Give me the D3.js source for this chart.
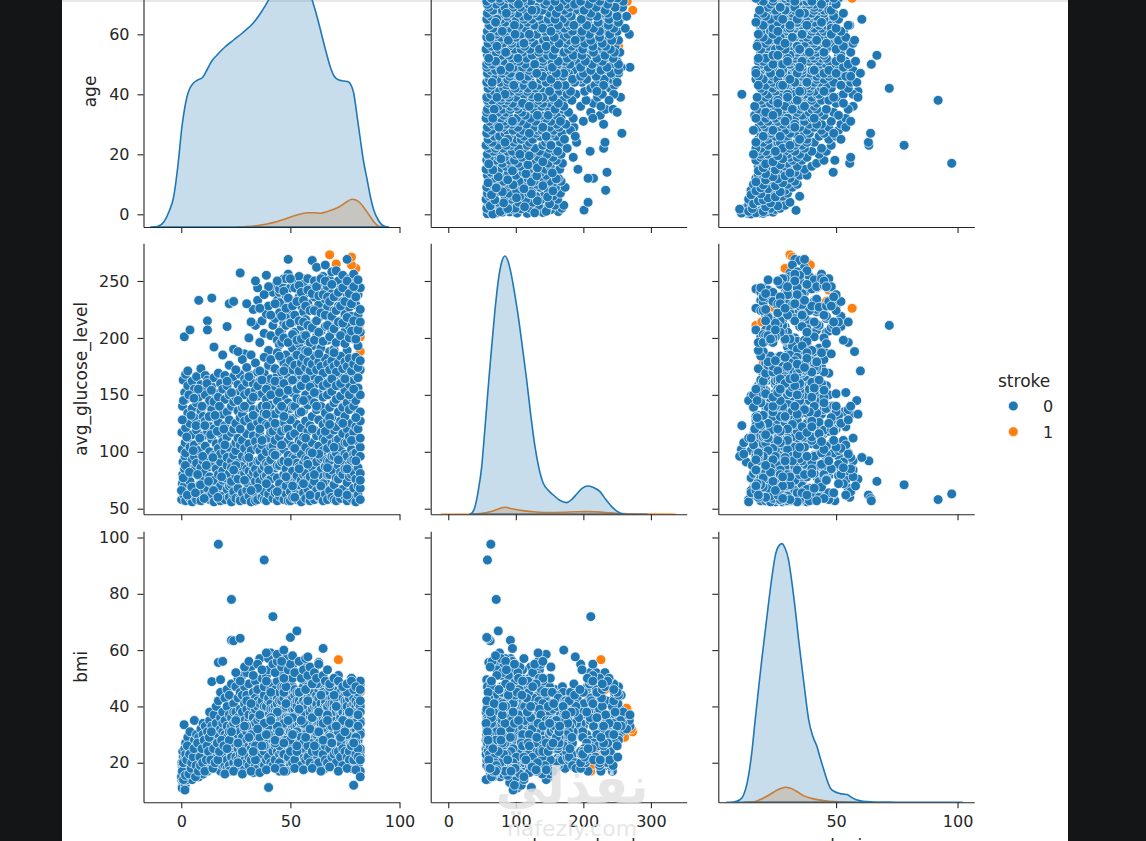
<!DOCTYPE html>
<html>
<head>
<meta charset="utf-8">
<title>Stroke pairplot</title>
<script src="https://d3js.org/d3.v7.min.js"></script>
<style>
  body { margin: 0; background: #131517; }
  svg { display: block; }
  .tick text { font-family: "DejaVu Sans", sans-serif; font-size: 16px; fill: #262626; }
  .tick line, .domain { stroke: #262626; stroke-width: 1.1px; }
  .lbl { font-family: "DejaVu Sans", sans-serif; font-size: 17px; fill: #262626; }
</style>
</head>
<body>
<svg id="chart"></svg>
<script>
// columns of the grid, in order
const variables = ["age", "avg_glucose_level", "bmi"];
const hueTitle = "stroke";
const hueLevels = ["0", "1"];

// tick values per column (x) and per row (y)
const xTickSets = [[0, 50, 100], [0, 100, 200, 300], [0, 50, 100]];
const yTickSets = [[0, 20, 40, 60, 80], [50, 100, 150, 200, 250], [20, 40, 60, 80, 100]];

// axis limits (x limits include the kde support, y limits are the scatter limits)
const xLims = [[-17.3, 100], [-26, 353], [1.5, 106.9]];
const yLims = [[-4.23, 86.1], [45.1, 283.1], [5.95, 102.2]];

// records [age, avg_glucose_level, bmi], stroke = 1 (drawn first)
const strokeYes = [
  [68,273,31],[71,265,38.7],[80,261,29],[82,201,45],[82,188,38],[69,184,35],[74.5,141,30],[75,165,28],
  [79,232,46],[66,242,47],[81.5,211,17],[56,252,41],[45,227,24],[68.7,178,20],[78,264,39.4],[78,271,32],
  [61,235,49],[72,226,56.6],[57,214,19.4],[58,87,30],[63,95,27],[70,110,33],[77,76,29],[80,102,25],
  [67,64,36],[54,120,31],[74,89,24],[59,71,35],[81,130,27],[76,144,32],[49,100,29],[64,81,33],[72,67,28],[78,118,31]
];

// records [age, avg_glucose_level, bmi], stroke = 0
const strokeNo = [
  [0.2,58,14],[0.5,72,18.5],[0.8,91,13],[0.3,117,20],[0.6,140,16],[0.9,163,22],[0.4,102,11],[0.7,80,24],
  [1.2,62,16],[1.5,85,21],[1.8,108,12],[1.1,128,18],[1.6,152,25],[1.3,70,33.5],[1.7,96,10.3],[1.4,201,19],
  [2,57,19],[2,77,15],[2,99,23],[2,121,17],[2,146,27],[2,168,20],
  [3,64,17],[3,88,20.5],[3,112,14],[3,134,29],[3,158,18],[3,171,21],
  [4,59,22],[4,81,16],[4,104,19],[4,125,24],[4,149,15],[4,74,31],[4,207,17],
  [5,67,18],[5,93,26],[5,115,16],[5,138,21],[5,162,19],[5,56,14],
  [6,61,20],[6,84,17],[6,106,35],[6,130,23],[6,155,18],[6,96,28],
  [7,69,16],[7,90,22],[7,119,19],[7,143,26],[7,166,21],[7,58,30],
  [8,63,18],[8,79,24],[8,101,15],[8,124,20],[8,148,29],[8,233,19],
  [9,57,21],[9,86,17],[9,110,27],[9,136,23],[9,159,32],[9,173,18],
  [10,65,19],[10,92,25],[10,114,16],[10,131,30],[10,154,21],[10,76,34],
  [11,60,23],[11,82,18],[11,105,28],[11,127,20],[11,150,33],[11,167,24],
  [12,68,17],[12,95,22],[12,118,31],[12,141,26],[12,163,19],[12,215,25],[12,207,21],
  [13,58,27],[13,78,20],[13,100,35],[13,122,24],[13,145,18],[13,87,38],
  [14,63,22],[14,89,29],[14,111,19],[14,137,48.8],[14,157,26],[14,235,23],[14,72,33],
  [15,56,25],[15,75,20],[15,97,31],[15,120,37],[15,144,23],[15,165,28],[15,192,30],
  [16,66,18],[16,85,26],[16,107,40],[16,129,22],[16,151,34],[16,94,29],
  [17,63,97.6],[17,59,24],[17,80,55.6],[17,103,19],[17,126,30],[17,148,42],[17,169,27],
  [18,70,32],[18,91,21],[18,116,45],[18,139,26],[18,160,36],[18,57,49.5],[18,98,17],
  [19,61,28],[19,83,38],[19,109,23],[19,133,56],[19,155,31],[19,185,34],[19,75,19],
  [20,58,22],[20,77,35],[20,100,27],[20,123,43],[20,146,19],[20,167,30],
  [21,67,40],[21,88,24],[21,113,33],[21,135,21],[21,158,46],[21,210,29],[21,95,18],
  [22,60,31],[22,81,19],[22,104,44],[22,128,26],[22,150,37],[22,230,25],[22,70,17],
  [23,71,78],[23,92,63.5],[23,56,23],[23,74,36],[23,117,29],[23,140,48],[23,163,22],[23,86,33],
  [24,62,63.3],[24,65,27],[24,97,41],[24,120,20],[24,144,34],[24,166,26],[24,190,38],[24,232,27],
  [25,59,30],[25,79,47],[25,101,22],[25,125,38],[25,148,18],[25,108,35],
  [26,68,21],[26,90,36],[26,112,30],[26,136,50],[26,159,25],[26,76,43],
  [27,59,64.2],[27,57,33],[27,84,26],[27,106,45],[27,130,19],[27,153,39],[27,257,31],[27,168,23],
  [28,64,38],[28,87,29],[28,110,23],[28,133,44],[28,156,20],[28,96,51],
  [29,58,26],[29,81,41],[29,103,35],[29,127,18],[29,150,47],[29,186,32],[29,164,21],
  [30,66,44],[30,94,24],[30,116,39],[30,139,31],[30,161,20],[30,73,52],[30,85,28],
  [31,61,35],[31,83,19],[31,107,48],[31,129,22],[31,152,37],[31,200,33],[31,98,26],
  [32,56,28],[32,78,42],[32,101,21],[32,122,54],[32,145,25],[32,167,40],[32,90,33],
  [33,69,16.5],[33,89,37],[33,114,27],[33,137,45],[33,160,30],[33,225,36],[33,82,23],
  [34,63,49],[34,85,30],[34,109,24],[34,131,39],[34,154,19],[34,211,28],[34,57,34],[34,74,43],
  [35,58,40],[35,80,22],[35,103,46],[35,126,29],[35,149,35],[35,233,31],[35,244,42],[35,170,26],[35,92,18],
  [36,67,31],[36,92,57],[36,115,21],[36,138,25],[36,162,41],[36,196,30],[36,74,27],[36,101,36],
  [37,60,38],[37,84,28],[37,106,42],[37,128,20],[37,151,50],[37,215,37],[37,95,23],[37,140,32],
  [38,58,92],[38,65,24],[38,87,44],[38,111,26],[38,134,38],[38,157,19],[38,204,40],[38,169,47],[38,78,33],
  [39,57,29],[39,79,51],[39,100,21],[39,124,40],[39,146,27],[39,255,36],[39,221,33],[39,90,35],
  [40,123,11.2],[40,63,42],[40,89,22],[40,112,37],[40,135,53],[40,159,28],[40,189,35],[40,228,43],[40,75,31],
  [41,68,36],[41,93,46],[41,117,20],[41,141,41],[41,164,25],[41,202,39],[41,76,59],[41,104,30],
  [42,211,71.9],[42,59,24],[42,82,39],[42,105,28],[42,129,48],[42,152,19],[42,240,32],[42,174,44],[42,118,34],
  [43,64,45],[43,86,21],[43,110,40],[43,133,35],[43,156,26],[43,217,46],[43,246,38],[43,97,30],
  [44,57,38],[44,77,27],[44,99,49],[44,122,18],[44,144,43],[44,167,31],[44,198,29],[44,233,41],[44,88,24],
  [45,61,23],[45,88,42],[45,113,36],[45,137,55],[45,160,29],[45,240,37],[45,222,45],[45,194,33],[45,72,19],[45,243,17],
  [46,66,40],[46,91,26],[46,118,47],[46,140,21],[46,163,39],[46,207,42],[46,248,30],[46,181,36],[46,104,33],
  [47,58,47],[47,80,20],[47,102,30],[47,126,43],[47,149,25],[47,229,28],[47,213,50],[47,252,39],[47,92,36],
  [48,63,28],[48,85,52],[48,108,22],[48,131,33],[48,155,45],[48,185,40],[48,237,34],[48,70,36],[48,120,19],
  [49,57,36],[49,76,24],[49,97,42],[49,120,50],[49,143,32],[49,166,21],[49,269,33],[49,256,44],[49,220,27],[49,110,29],
  [50,57,64.5],[50,65,44],[50,90,27],[50,114,35],[50,138,46],[50,162,20],[50,200,31],[50,244,48],[50,226,36],[50,80,31],[50,225,19],
  [51,60,33],[51,83,47],[51,105,23],[51,129,31],[51,152,54],[51,191,43],[51,250,35],[51,214,39],[51,95,18],[51,140,28],
  [52,68,39],[52,94,25],[52,116,44],[52,140,36],[52,164,28],[52,232,41],[52,205,46],[52,183,33],[52,74,20],
  [53,74,66.8],[53,58,42],[53,79,22],[53,101,51],[53,124,33],[53,147,40],[53,243,29],[53,219,37],[53,170,45],[53,90,30],
  [54,62,30],[54,87,45],[54,110,19],[54,134,42],[54,157,34],[54,195,38],[54,236,24],[54,254,31],[54,71,27],
  [55,56,38],[55,75,33],[55,98,46],[55,121,21],[55,145,39],[55,167,32],[55,210,52],[55,228,35],[55,188,41],[55,108,26],
  [56,64,47],[56,90,24],[56,113,40],[56,136,31],[56,160,43],[56,247,38],[56,202,22],[56,223,42],[56,80,35],
  [57,59,35],[57,81,41],[57,104,20],[57,127,49],[57,150,37],[57,186,45],[57,239,33],[57,216,28],[57,94,27],
  [58,67,43],[58,93,32],[58,118,23],[58,141,29],[58,163,42],[58,252,40],[58,197,34],[58,230,47],[58,76,19],
  [59,57,31],[59,78,45],[59,100,36],[59,123,21],[59,146,33],[59,208,38],[59,243,30],[59,180,43],[59,88,26],
  [60,63,40],[60,86,29],[60,108,50],[60,131,24],[60,155,39],[60,268,35],[60,225,42],[60,193,32],[60,71,20],
  [61,58,36],[61,74,22],[61,96,32],[61,119,45],[61,143,30],[61,166,37],[61,250,40],[61,213,27],[61,236,29],
  [62,66,33],[62,91,40],[62,114,19],[62,137,28],[62,160,44],[62,262,37],[62,201,41],[62,185,30],[62,102,25],
  [63,60,55.6],[63,61,39],[63,82,24],[63,105,46],[63,128,34],[63,151,21],[63,229,36],[63,246,43],[63,218,32],
  [64,69,44],[64,94,35],[64,117,22],[64,140,41],[64,164,33],[64,206,47],[64,240,34],[64,191,38],[64,84,27],
  [65,95,60.6],[65,57,30],[65,78,38],[65,101,20],[65,124,32],[65,148,45],[65,254,39],[65,222,31],[65,180,36],[65,112,26],
  [66,63,41],[66,87,33],[66,110,23],[66,134,38],[66,157,27],[66,264,32],[66,234,42],[66,210,35],[66,74,18],
  [67,58,35],[67,80,45],[67,103,24],[67,127,40],[67,150,30],[67,169,21],[67,198,37],[67,245,29],[67,227,40],[67,92,32],
  [68,66,37],[68,92,22],[68,115,43],[68,139,34],[68,162,26],[68,217,33],[68,251,41],[68,188,45],[68,80,30],
  [69,60,43],[69,84,34],[69,107,20],[69,130,29],[69,153,41],[69,239,36],[69,205,30],[69,258,34],[69,96,25],
  [70,71,31],[70,96,41],[70,119,23],[70,143,45],[70,166,32],[70,224,39],[70,190,34],[70,247,31],[70,58,27],
  [71,57,39],[71,77,19],[71,99,44],[71,122,36],[71,146,26],[71,211,43],[71,236,35],[71,259,38],[71,110,30],
  [72,64,34],[72,88,46],[72,111,21],[72,135,39],[72,158,28],[72,183,29],[72,228,40],[72,250,33],[72,76,25],
  [73,59,45],[73,82,24],[73,104,37],[73,127,18],[73,149,32],[73,169,36],[73,215,33],[73,243,40],[73,95,29],
  [74,67,38],[74,92,29],[74,116,43],[74,139,22],[74,161,40],[74,197,38],[74,232,30],[74,255,35],[74,80,20],
  [75,61,30],[75,85,40],[75,108,21],[75,131,27],[75,154,45],[75,221,36],[75,245,42],[75,206,28],[75,98,34],
  [76,57,42],[76,73,23],[76,96,38],[76,120,30],[76,143,19],[76,166,34],[76,269,37],[76,238,31],[76,189,40],[76,108,27],
  [77,64,36],[77,89,44],[77,113,20],[77,137,37],[77,159,26],[77,227,43],[77,252,29],[77,210,36],[77,78,31],
  [78,59,29],[78,80,37],[78,102,45],[78,125,22],[78,148,40],[78,180,35],[78,240,30],[78,219,46],[78,92,18],
  [79,98,12],[79,68,41],[79,93,24],[79,117,38],[79,140,28],[79,163,43],[79,233,37],[79,256,33],[79,199,31],[79,82,21],
  [80,56,34],[80,76,46],[80,99,20],[80,122,40],[80,145,35],[80,168,29],[80,212,42],[80,247,38],[80,229,32],[80,110,26],
  [81,62,38],[81,86,23],[81,109,44],[81,133,34],[81,156,41],[81,193,36],[81,238,30],[81,220,45],[81,120,19],[81,70,28],
  [82,58,31],[82,81,40],[82,104,35],[82,127,48],[82,150,30],[82,205,38],[82,244,34],[82,172,42],[82,96,17],[82,135,24],[82,68,22],
  // children, extra
  [0.1,66,15],[0.5,128,17],[0.9,77,20],[1,145,14],[1.9,88,15.5],[2.5,113,21],[2.8,62,26],[3.5,150,16],[3.8,82,23],
  [4.5,132,18],[4.8,69,20],[5.5,101,22],[5.8,147,25],[6.5,64,15],[6.8,123,19],[7.5,80,27],[7.8,155,17],[8.5,112,22],
  [8.8,71,19],[9.5,140,25],[9.8,96,20],[10.5,59,28],[10.8,123,17],[11.5,88,21],[11.8,160,26],[12.5,74,24],[12.8,131,29],
  [13.5,115,21],[13.8,154,31],[14.5,95,18],[14.8,66,25],[15.5,132,20],[16.5,118,27],[16.8,60,21],[17.5,140,24],
  [18.5,78,28],[19.5,120,26],
  // glucose 165-190
  [22,176,28],[25,172,35],[28,181,24],[30,174,42],[32,185,30],[34,178,21],[36,171,37],[38,183,26],[40,176,33],
  [41,181,45],[43,173,29],[44,187,38],[46,170,24],[47,178,34],[48,174,41],[50,180,27],[51,172,36],[52,176,22],
  [53,185,31],[54,171,39],[55,178,25],[56,183,34],[57,174,30],[58,179,42],[59,171,27],[60,177,36],[61,184,23],
  [62,172,31],[63,179,38],[64,175,28],[65,169,34],[66,182,26],[67,177,37],[68,172,29],[69,180,33],[70,175,24],
  [71,170,40],[72,178,31],[73,184,27],[74,173,35],[75,179,22],[76,175,30],[77,182,38],[78,171,26],[79,177,34],
  [80,183,29],[81,174,37],[82,180,25],[26,188,20],[45,184,19],[57,189,18],[63,186,48],[70,187,44],
  // glucose 190-260, older
  [45,205,26],[45,231,20],[46,219,52],[46,196,18],[47,241,23],[47,200,45],[48,226,17],[48,211,28],[48,252,47],
  [49,235,22],[49,196,55],[50,213,24],[50,252,28],[51,228,50],[51,203,20],[52,244,21],[52,220,30],[53,198,24],
  [53,232,52],[54,215,27],[54,246,45],[55,199,29],[55,240,19],[56,233,27],[56,214,55],[57,202,21],[57,228,46],
  [58,211,26],[58,242,22],[59,224,50],[59,196,20],[60,239,24],[60,209,48],[61,224,19],[61,198,53],[62,215,24],
  [62,245,48],[63,205,27],[63,237,20],[64,222,26],[64,252,44],[65,197,23],[65,238,50],[66,220,21],[66,250,26],
  [67,211,49],[67,236,20],[68,201,25],[68,232,47],[69,219,22],[69,247,27],[70,208,23],[70,236,49],[71,196,24],
  [71,224,20],[72,214,51],[72,240,24],[73,202,22],[73,228,48],[74,213,25],[74,244,19],[75,232,24],[75,195,46],
  [76,218,22],[76,250,45],[77,200,24],[77,239,21],[78,230,26],[78,206,50],[79,215,21],[79,245,46],[80,199,23],
  [80,236,27],[81,207,25],[81,251,22],[82,225,21],[82,214,49],[44,250,33],[43,230,27],[41,220,36],[40,245,30],
  [38,238,34],[36,226,29],[34,250,26],[32,214,41],[30,230,33],
  // high bmi
  [25,88,52],[27,120,49],[29,75,54],[31,95,56],[33,132,51],[35,68,55],[37,110,53],[39,140,49],[40,84,57],[42,99,55],
  [43,125,52],[44,65,56],[46,106,54],[47,138,50],[48,78,57],[49,91,53],[50,128,55],[51,70,58],[52,103,52],[54,85,56],
  [55,135,50],[56,72,53],[57,112,57],[58,89,51],[59,62,54],[60,120,48],[61,80,52],[62,140,50],[63,98,55],[65,72,51],
  [66,118,49],[67,86,53],[68,130,48],[70,104,50],[72,64,49],[74,125,47],[76,85,48],[78,110,49],[80,92,47],[82,75,46],
  [44,145,58.5],[39,133,59],[47,171,60],[58,188,57.6],[46,140,56],
  // low bmi
  [20,106,16],[24,84,17],[28,139,16],[32,66,17],[36,120,16.5],[39,72,17.5],[43,97,18],[47,131,17],[52,60,18],
  [56,145,17.5],[60,99,18],[64,70,17],[68,124,18.5],[72,93,17],[76,62,18],[80,130,17.5],[82,112,15],
  // glucose 140-168
  [21,162,25],[23,152,31],[26,145,27],[29,140,33],[31,166,29],[33,148,24],[35,158,32],[37,163,26],[39,155,30],
  [41,150,35],[43,162,28],[45,152,31],[47,160,27],[49,154,35],[51,163,30],[53,155,26],[55,158,35],[57,164,29],
  [59,157,32],[61,152,26],[63,163,31],[65,158,28],[67,160,35],[69,164,27],[71,158,33],[73,160,29],[75,164,31],
  [77,150,34],[79,155,27],[81,165,33]
];

// kde curves on the diagonal: [value, relative density]
const ageKde0 = [[-14,0],[-11,0.5],[-8,5],[-5.5,16],[-3.5,30],[-1.5,62],[0.3,100],[1.5,118],[2.6,130],[4,139],[5.6,144],
  [7.5,147],[9.5,149],[12,158],[14,166],[16.4,172],[20,180],[24,187],[28,194],[33,204],[37,216],[40,227],[43,242],
  [47,260],[50,268],[53,265],[56,252],[58.5,238],[60,227],[62,212],[63.8,197],[66,178],[68.3,160],[70,151],[72.2,147],
  [74.5,146],[76.7,145],[78,141],[79,134],[80.5,112],[82.1,87],[83.5,66],[85.2,47],[86.7,30],[88.2,17],[90,8],[92.8,1],[95,0]];
const ageKde1 = [[26,0],[30,0.5],[35,1.5],[39.3,3],[44,5.5],[48.5,8.7],[53,12],[57.7,14.3],[61,14.2],[63.8,13.7],[67,15.5],
  [69.9,17.7],[73,21],[76,25.5],[78.3,27.7],[80,27],[82.1,23.7],[84.5,17],[86.7,10],[88.5,4.5],[90.5,0.7],[92,0]];
const glucoseKde0 = [[32,0],[36,2],[39.6,7.7],[44,22],[49.5,47.7],[53,75],[56.9,107.7],[60.5,138],[64.3,167.7],[69,203],
  [74.1,234],[79,252],[84,258.3],[89,252],[93.9,237.7],[99,218],[103.7,197.7],[110,166],[116.1,134.3],[122,100],[128.4,67.7],
  [134,47],[140.7,31],[148,24],[155.6,19.3],[165,14],[175.4,11.7],[183,15],[190.2,20.3],[198,26],[207.4,28.3],[216,26.5],
  [224.7,22.7],[233,15],[242,7.7],[250,3],[259.3,0.3],[270,0],[294,0]];
const glucoseKde1 = [[-10,0],[20,0],[40,0.5],[55,1.5],[65,3],[75,5.5],[84,7],[95,5.5],[110,3.7],[130,2.3],[150,1.8],
  [170,2],[190,2.5],[205,2.7],[220,2.4],[240,1.5],[260,0.7],[290,0.2],[336,0]];
const bmiKde0 = [[5,0],[6.3,0],[9,1],[11.2,4.3],[12.6,12],[13.9,26],[15.3,50],[16.7,82.7],[18,112],[19.4,142.7],[20.8,171],
  [22.2,199.3],[23.5,224],[24.9,246],[26.3,256],[27.7,258.7],[29,254],[30.4,242.7],[31.8,220],[33.2,192.7],[34.5,164],
  [35.9,136],[37.3,108],[38.7,82.7],[40.4,66],[42.1,56],[43.5,44],[44.9,32.7],[46.3,22],[47.6,14.3],[49.5,10.5],[51.8,8.7],
  [53.2,8.2],[54.5,7.7],[56.3,5],[58,2.7],[60,1.5],[62.8,0.7],[66,0.3],[75,0.1],[102,0]];
const bmiKde1 = [[12,0],[16.7,0.7],[19,3],[21.5,6],[23.5,9],[25.6,12],[27.5,14],[29.1,15],[31,14.2],[32.5,12.7],[34.5,9.8],
  [36.6,6.7],[39,4.5],[42.1,2.7],[45.5,1.5],[49,0.7],[53,0.2],[58,0]];
const kdes = [[ageKde0, ageKde1], [glucoseKde0, glucoseKde1], [bmiKde0, bmiKde1]];

const colors = ["#1f77b4", "#ff7f0e"];

// layout
const W = 1146, H = 841;
const colX = [143.5, 430.7, 718.3], colW = 256;
const rowY = [-44, 243.3, 531.3], rowH = 271;
const yLabelX = [96, 86.5, 86.5];
const dotR = 4.9;

const svg = d3.select("#chart").attr("width", W).attr("height", H);
svg.append("rect").attr("width", W).attr("height", H).attr("fill", "#131517");
svg.append("rect").attr("x", 62).attr("width", 1006).attr("height", H).attr("fill", "#ffffff");
svg.append("rect").attr("x", 62).attr("width", 1006).attr("height", 2).attr("fill", "#e8e8e8");

const xScales = xLims.map((d, j) => d3.scaleLinear().domain(d).range([colX[j], colX[j] + colW]));
const yScales = yLims.map((d, i) => d3.scaleLinear().domain(d).range([rowY[i] + rowH, rowY[i]]));
const fmt = d3.format("d");

for (let i = 0; i < 3; i++) {
  for (let j = 0; j < 3; j++) {
    const x = xScales[j], y = yScales[i];
    const id = "clip" + i + j;
    svg.append("clipPath").attr("id", id).append("rect")
      .attr("x", colX[j]).attr("y", rowY[i]).attr("width", colW).attr("height", rowH);
    const g = svg.append("g").attr("clip-path", "url(#" + id + ")");

    if (i === j) {
      // density for each stroke level, level 1 underneath
      const ky = d3.scaleLinear().domain([0, rowH]).range([rowY[i] + rowH, rowY[i]]);
      const area = d3.area().x(d => x(d[0])).y0(ky(0)).y1(d => ky(d[1])).curve(d3.curveMonotoneX);
      [1, 0].forEach(h => {
        g.append("path").datum(kdes[i][h])
          .attr("d", d => area(d) + "Z")
          .attr("fill", colors[h]).attr("fill-opacity", 0.25)
          .attr("stroke", colors[h]).attr("stroke-width", 1.6)
          .attr("stroke-linejoin", "round");
      });
    } else {
      [[strokeYes, 1], [strokeNo, 0]].forEach(([recs, h]) => {
        g.selectAll(null).data(recs).enter().append("circle")
          .attr("cx", d => x(d[j])).attr("cy", d => y(d[i]))
          .attr("r", dotR)
          .attr("fill", colors[h])
          .attr("stroke", "#ffffff").attr("stroke-width", 0.7);
      });
    }

    const yt = yTickSets[i].filter(v => v >= yLims[i][0] && v <= yLims[i][1]);
    svg.append("g").attr("transform", "translate(" + colX[j] + ",0)")
      .call(d3.axisLeft(y).tickValues(yt).tickSize(6).tickPadding(8).tickSizeOuter(0)
        .tickFormat(j === 0 ? fmt : () => ""));
    const xt = xTickSets[j].filter(v => v >= xLims[j][0] && v <= xLims[j][1]);
    svg.append("g").attr("transform", "translate(0," + (rowY[i] + rowH) + ")")
      .call(d3.axisBottom(x).tickValues(xt).tickSize(6).tickPadding(7).tickSizeOuter(0)
        .tickFormat(i === 2 ? fmt : () => ""));
  }
}

// axis labels
variables.forEach((v, k) => {
  svg.append("text").attr("class", "lbl")
    .attr("transform", "translate(" + yLabelX[k] + "," + (rowY[k] + rowH / 2) + ") rotate(-90)")
    .attr("text-anchor", "middle").text(v);
  svg.append("text").attr("class", "lbl")
    .attr("x", colX[k] + colW / 2).attr("y", 852)
    .attr("text-anchor", "middle").text(v);
});

// legend
const leg = svg.append("g");
leg.append("text").attr("class", "lbl").attr("x", 998).attr("y", 386.5).text(hueTitle);
hueLevels.forEach((lv, k) => {
  leg.append("circle").attr("cx", 1013.3).attr("cy", 406 + k * 25.7).attr("r", dotR)
    .attr("fill", colors[k]).attr("stroke", "#ffffff").attr("stroke-width", 0.7);
  leg.append("text").attr("class", "lbl").style("font-size", "16px")
    .attr("x", 1043).attr("y", 412 + k * 25.7).text(lv);
});

// watermark
svg.append("text").attr("x", 572).attr("y", 803).attr("text-anchor", "middle")
  .style("font-family", "DejaVu Sans").style("font-weight", "bold").style("font-size", "50px")
  .attr("fill", "#e2e2e2").attr("fill-opacity", 0.85).text("نفذلي");
svg.append("text").attr("x", 572).attr("y", 836).attr("text-anchor", "middle")
  .style("font-family", "DejaVu Sans").style("font-size", "22px")
  .attr("fill", "#e2e2e2").attr("fill-opacity", 0.85).text("nafezly.com");
</script>
</body>
</html>
